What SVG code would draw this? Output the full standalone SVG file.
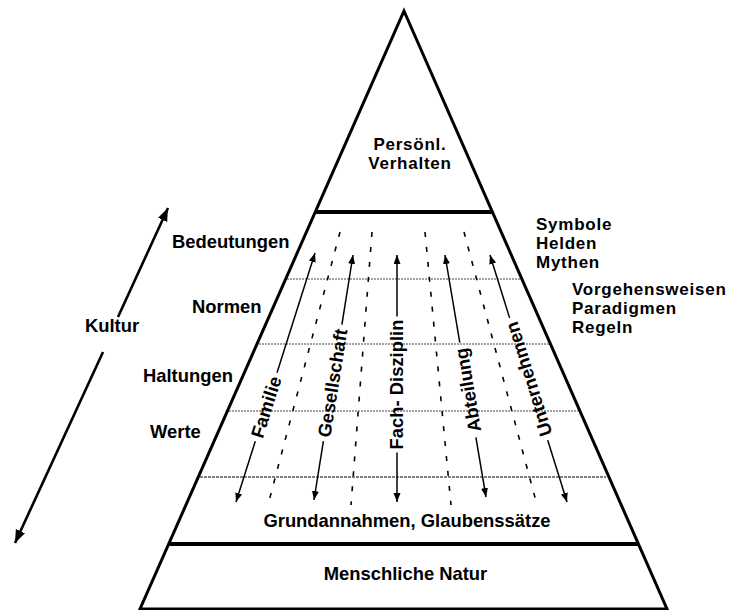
<svg xmlns="http://www.w3.org/2000/svg" width="732" height="610" viewBox="0 0 732 610">
<style>
text{font-family:"Liberation Sans",Arial,sans-serif;font-weight:bold;font-size:18.4px;fill:#000}
text.stack{font-size:17px;letter-spacing:0.75px}
.mid{text-anchor:middle}
.edge{fill:none;stroke:#000;stroke-width:3;stroke-linejoin:miter}
.sep{stroke:#000;stroke-width:4}
.dot{stroke:#444;stroke-width:1;stroke-dasharray:2 1}
.dot2{stroke:#000;stroke-width:1;stroke-dasharray:3 1}
.dash{stroke:#000;stroke-width:1.6;stroke-dasharray:5 10}
.arr{stroke:#000;stroke-width:1.5;fill:none;marker-end:url(#h)}
.big{stroke:#000;stroke-width:2.6;fill:none;marker-end:url(#H)}
</style>
<defs>
<marker id="h" markerUnits="userSpaceOnUse" markerWidth="10" markerHeight="8" refX="9" refY="3.5" orient="auto"><path d="M0,0 L9,3.5 L0,7 Z" fill="#000"/></marker>
<marker id="H" markerUnits="userSpaceOnUse" markerWidth="14" markerHeight="11" refX="13" refY="5" orient="auto"><path d="M0,0 L13,5 L0,10 Z" fill="#000"/></marker>
</defs>
<g id="pyramid">
<polygon class="edge" points="404,11 667,609 140,609"/>
<line class="sep" x1="316" y1="212" x2="492" y2="212"/>
<line class="sep" x1="168" y1="544" x2="638" y2="544"/>
</g>
<g id="levels">
<line class="dot" x1="287" y1="279" x2="520" y2="279"/>
<line class="dot" x1="259" y1="344" x2="549" y2="344"/>
<line class="dot" x1="229" y1="411" x2="578" y2="411"/>
<line class="dot2" x1="200" y1="477" x2="606" y2="477"/>
</g>
<g id="dividers">
<line class="dash" x1="340" y1="232" x2="268" y2="505"/>
<line class="dash" x1="372" y1="232" x2="351" y2="505"/>
<line class="dash" x1="425" y1="232" x2="451" y2="505"/>
<line class="dash" x1="464" y1="232" x2="537" y2="505"/>
</g>
<g id="connectors">
<line class="arr" x1="277" y1="372.7" x2="315" y2="253"/>
<line class="arr" x1="255.3" y1="441.3" x2="236" y2="502"/>
<line class="arr" x1="341.9" y1="324.7" x2="353" y2="255"/>
<line class="arr" x1="323.4" y1="441.2" x2="314" y2="500"/>
<line class="arr" x1="397" y1="316.5" x2="397" y2="255"/>
<line class="arr" x1="397" y1="452.5" x2="397" y2="502"/>
<line class="arr" x1="459.8" y1="342.7" x2="445" y2="255"/>
<line class="arr" x1="475.9" y1="437.3" x2="486" y2="497"/>
<line class="arr" x1="509.6" y1="317.9" x2="490" y2="255"/>
<line class="arr" x1="547.7" y1="440.1" x2="567" y2="502"/>
<line class="big" x1="118" y1="317" x2="168" y2="208"/>
<line class="big" x1="103" y1="352" x2="15" y2="543"/>
</g>
<g id="arrow-labels">
<text class="mid" dy="6.4" transform="translate(266.1,407) rotate(-72.4)">Familie</text>
<text class="mid" dy="6.4" transform="translate(332.6,383) rotate(-80.95)">Gesellschaft</text>
<text class="mid" dy="6.4" transform="translate(397,384.5) rotate(-90)">Fach- Disziplin</text>
<text class="mid" dy="6.4" transform="translate(467.9,390) rotate(-99.6)">Abteilung</text>
<text class="mid" dy="6.4" transform="translate(528.7,379) rotate(-107.3)">Unternehmen</text>
</g>
<g id="node-top">
<text class="mid stack" x="410" y="150">Persönl.<tspan x="410" y="169">Verhalten</tspan></text>
</g>
<g id="node-left">
<text x="172" y="248">Bedeutungen</text>
<text x="192" y="313">Normen</text>
<text x="143" y="382">Haltungen</text>
<text x="150" y="438">Werte</text>
</g>
<g id="node-kultur">
<text x="85" y="332">Kultur</text>
</g>
<g id="node-right1">
<text class="stack" x="536" y="230">Symbole<tspan x="536" y="249">Helden</tspan><tspan x="536" y="268">Mythen</tspan></text>
</g>
<g id="node-right2">
<text class="stack" x="572" y="295">Vorgehensweisen<tspan x="572" y="314">Paradigmen</tspan><tspan x="572" y="333">Regeln</tspan></text>
</g>
<g id="node-base">
<text class="mid" x="407" y="527">Grundannahmen, Glaubenssätze</text>
</g>
<g id="node-nature">
<text class="mid" x="405.5" y="580">Menschliche Natur</text>
</g>
</svg>
